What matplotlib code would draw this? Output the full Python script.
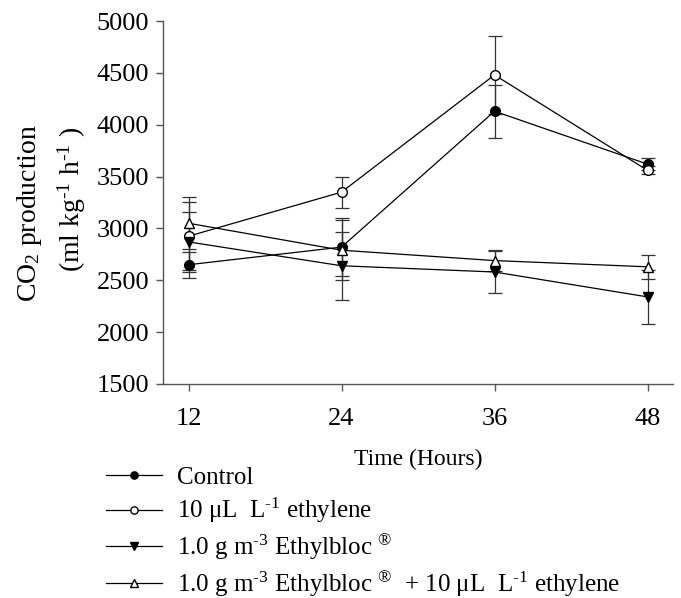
import numpy as np
import matplotlib
matplotlib.use('Agg')
import matplotlib.pyplot as plt

plt.rcParams['font.family'] = 'Liberation Serif'
plt.rcParams['mathtext.fontset'] = 'custom'
plt.rcParams['mathtext.rm'] = 'Liberation Serif'
plt.rcParams['mathtext.it'] = 'Liberation Serif:italic'
plt.rcParams['mathtext.default'] = 'rm'

hours = [12, 24, 36, 48]

control = [2650, 2820, 4130, 3620]
control_err = [125, 280, 255, 60]

ethylene = [2925, 3350, 4480, 3560]
ethylene_err = [330, 150, 380, 40]

ethylbloc = [2870, 2640, 2580, 2340]
ethylbloc_err = [290, 330, 200, 260]

both = [3050, 2790, 2690, 2630]
both_err = [250, 290, 100, 115]

labels = ['Control',
          '10 \u03bcL  L$^{\\text{-}1}$ ethylene',
          '1.0 g m$^{\\text{-}3}$ Ethylbloc $^{\u00ae}$',
          '1.0 g m$^{\\text{-}3}$ Ethylbloc $^{\u00ae}$  + 10 \u03bcL  L$^{\\text{-}1}$ ethylene']

fig = plt.figure(figsize=(6.81, 5.98), dpi=100)
ax = fig.add_axes([163/681, 1-384/598, (673-163)/681, (384-21)/598])

series = [(control, control_err, 'o', 'black'),
          (ethylene, ethylene_err, 'o', 'white'),
          (ethylbloc, ethylbloc_err, 'v', 'black'),
          (both, both_err, '^', 'white')]

handles = []
for (vals, err, mk, fc) in series:
    h = ax.errorbar(hours, vals, yerr=err, fmt='-', marker=mk, color='black',
                    mfc=fc, mec='black', ms=7, lw=0.9, elinewidth=0.9,
                    ecolor='#333333', capsize=5, capthick=0.9)
    handles.append(h[0])

ax.set_xlim(10, 50)
ax.set_ylim(1500, 5000)
ax.set_xticks(hours)
ax.set_yticks(np.arange(1500, 5001, 500))
ax.spines['top'].set_visible(False)
ax.spines['right'].set_visible(False)
for s in ['left', 'bottom']:
    ax.spines[s].set_color('#555555')
    ax.spines[s].set_linewidth(1.0)
ax.tick_params(direction='out', length=5, width=1.0, color='#555555',
               labelsize=19)
ax.tick_params(axis='x', pad=12)
ax.tick_params(axis='y', pad=5)

ax.set_xlabel('Time (Hours)', fontsize=17, labelpad=14)

fig.text(30/681, 1-213/598, 'CO$_2$ production', rotation=90,
         ha='center', va='center', fontsize=20)
fig.text(72/681, 1-199/598, '(ml kg$^{\\text{-}1}$ h$^{\\text{-}1}$ )', rotation=90,
         ha='center', va='center', fontsize=20)

fig.legend(handles, labels, loc='upper left', bbox_to_anchor=(106/681, 1-466/598),
           frameon=False, fontsize=18, handlelength=2.25, handletextpad=0.6,
           labelspacing=0.3, borderaxespad=0, borderpad=0, markerscale=0.75)

fig.savefig('out.png', dpi=100)
